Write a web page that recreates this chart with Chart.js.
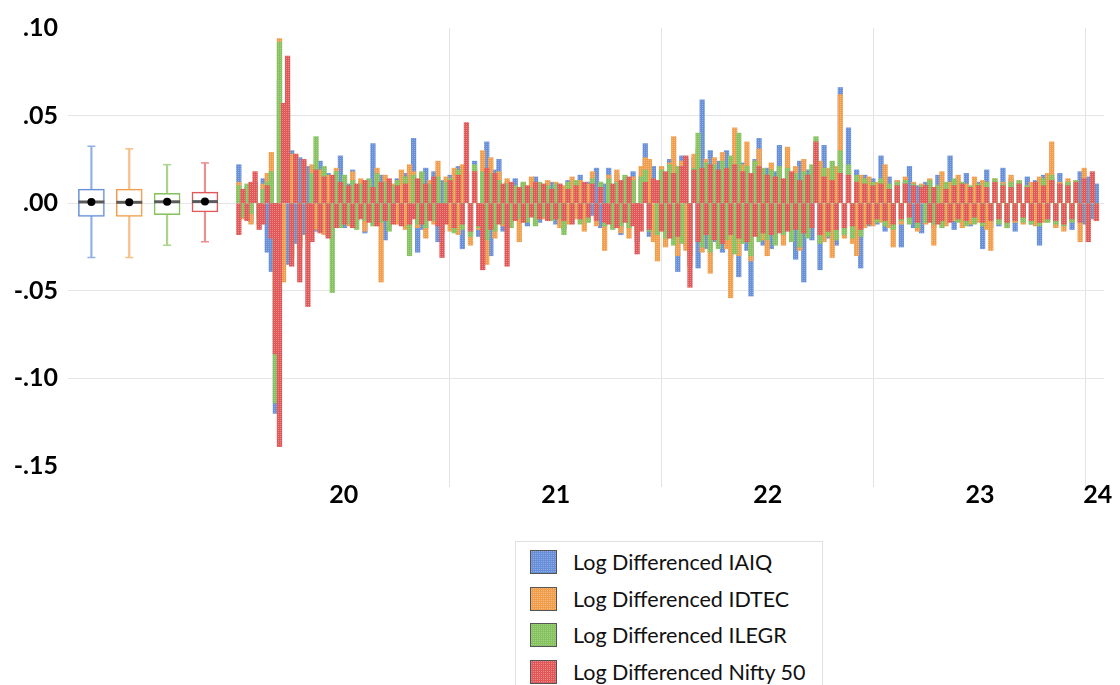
<!DOCTYPE html>
<html>
<head>
<meta charset="utf-8">
<script src="https://cdn.jsdelivr.net/npm/chart.js@4.4.1/dist/chart.umd.min.js"></script>
<style>
  html, body { margin: 0; padding: 0; background: #fff; }
  #wrap { position: relative; width: 1120px; height: 685px; overflow: hidden; font-family: Lato, "Open Sans", sans-serif; }
  #chart { position: absolute; left: 0; top: 0; }
  #legend { position: absolute; left: 515px; top: 541px; width: 308px; height: 170px; border: 1px solid #e0e0e0; box-sizing: border-box; padding: 2px 0 0 14px; background: #fff; }
  .item { display: flex; align-items: center; height: 36.5px; font-size: 21.5px; color: #111; white-space: nowrap; }
  .swatch { width: 27px; height: 24px; border: 1px solid #555; box-sizing: border-box; margin-right: 16px; }
</style>
</head>
<body>
<div id="wrap">
  <canvas id="chart" width="1120" height="685"></canvas>
  <div id="legend"></div>
</div>
<script>
const SERIES_NAMES = ["Log Differenced IAIQ", "Log Differenced IDTEC", "Log Differenced ILEGR", "Log Differenced Nifty 50"];
const COLORS = ["#6890d8", "#f09e4c", "#86c25f", "#e05858"];
const DOTS = ["#8eaae2", "#f5b97e", "#a3d185", "#ea8787"];
const LIGHT = ["#93b0e4", "#f5be85", "#a9d48b", "#ea8f8f"];

const yearLabels = ["20", "21", "22", "23", "24"];
const yTicks = [-0.15, -0.10, -0.05, 0, 0.05, 0.10];

// weekly log differences, Jan 2020 - Jan 2024
const iaiq = [
  .022, -.006, .009, -.011, .012, -.008, .014, -.028, -.039, -.120, .070, .046, -.035,
  .030, -.023, .026, -.018, .021, .019, -.016, .024, -.012, .017, -.020, .015, .027,
  -.014, .011, .019, -.009, .013, -.017, .008, .034, -.012, .016, -.021, .010, -.008,
  .014, -.010, .017, .012, .037, -.028, -.015, .020, -.009, .018, -.022, .013, -.011,
  .016, -.013, .021, -.026, .018, -.017, .024, -.019, .015, .035, -.030, .019, .025,
  -.016, .012, -.010, .014, -.008, .011, -.013, .009, .015, -.011, .010, -.007, .012,
  -.012, .010, -.015, .013, -.009, .008, .016, -.011, .012, -.007, .020, -.014, .011,
  .020, -.013, .016, -.018, .014, -.011, .018, -.022, .015, .034, -.019, .021, -.016,
  .018, -.021, .025, .022, -.039, .027, -.024, -.030, .026, -.037, .059, -.026, .030,
  -.022, .024, -.028, .030, -.031, .028, -.042, .023, -.027, -.053, .025, .037, -.024,
  .020, -.026, .018, .033, -.019, .022, -.017, -.032, .024, -.045, .019, -.021, .026,
  -.038, .033, -.020, .017, -.024, .066, -.018, .043, -.015, .019, -.037, .016, -.013,
  .014, -.012, .027, -.016, .015, -.011, .013, -.025, .012, .021, -.014, .010, -.017,
  .012, -.010, -.014, .016, -.012, .011, .027, -.015, .013, -.009, .017, -.013, .010,
  .012, -.026, .019, -.014, .011, -.013, .020, -.011, .014, -.016, .012, -.010, .015,
  -.012, .013, -.024, .016, -.010, .014, -.013, .017, -.011, .012, -.015, .010, .018,
  -.012, .015, -.009, .011
];
const idtec = [
  .012, -.009, .007, -.012, .010, -.007, .011, .017, .029, -.078, .094, -.045, .040,
  .028, .028, -.026, .024, -.020, .022, -.015, .019, -.018, .016, -.014, .020, -.012,
  .015, -.013, .018, -.010, .014, -.016, .012, -.011, .020, -.045, .016, -.013, .011,
  -.012, .019, -.015, .022, .018, -.014, .017, -.020, .013, -.012, .024, -.017, .015,
  -.016, .020, -.018, .022, .017, -.024, .019, -.015, .030, -.035, .026, -.020, .018,
  -.013, .014, -.011, .009, -.022, .012, -.010, .015, -.012, .011, -.009, .013, -.010,
  .012, -.014, .010, -.012, .015, -.009, .013, -.016, .011, .018, -.013, .012, -.027,
  .016, -.014, .019, -.017, .013, -.020, .015, -.018, .021, .026, .025, -.022, -.033,
  .021, -.025, .023, .038, -.030, .024, -.027, -.036, .028, .031, -.028, .025, -.040,
  .026, -.024, .029, -.026, -.054, .043, -.030, .022, .035, -.033, .024, .031, -.021,
  -.030, .023, -.020, .019, -.024, .032, -.018, .021, -.027, .025, -.019, .018, .030,
  .024, -.022, .020, -.031, .021, .062, -.020, .018, -.023, -.030, .016, -.014, .015,
  -.013, .012, -.011, .022, -.014, -.025, .013, -.012, .015, -.010, .012, -.016, .011,
  -.012, .014, -.024, .010, .018, -.013, .012, -.010, .016, -.014, .011, -.012, .015,
  -.011, .013, -.015, -.027, .014, -.010, .012, -.014, .016, -.011, .013, -.012, .010,
  .012, -.013, .015, -.011, .017, .035, -.014, .012, -.016, .014, -.010, .013, -.022,
  .020, -.013, .012, -.010
];
const ilegr = [
  .010, -.008, .011, -.006, .009, -.012, .008, .012, .018, -.114, .092, .050, .055,
  -.031, .024, -.022, .020, -.018, .017, .038, -.016, .021, -.019, -.051, .018, -.014,
  .016, -.012, .013, -.015, .011, -.010, .014, -.013, .017, -.011, .012, -.016, .010,
  .013, -.011, .015, -.030, .016, -.012, .018, -.014, .011, -.010, .015, -.013, .012,
  .014, -.017, .019, -.015, .016, -.019, .022, -.014, .018, -.021, .017, -.016, .013,
  -.012, .011, -.014, .010, -.009, .012, -.011, .009, -.013, .012, -.008, .010, -.010,
  .011, -.009, -.018, .012, -.010, .013, -.012, .010, -.011, .014, -.009, .012, -.013,
  .014, -.015, .012, -.013, .016, -.014, .013, -.017, .015, .019, -.016, .014, -.018,
  .019, -.020, .022, -.024, .021, -.023, .025, -.027, .020, .040, -.025, .023, -.028,
  .022, -.026, .024, -.021, .027, -.029, .040, -.023, .021, -.030, .024, -.022, .020,
  -.021, .019, -.024, .021, -.018, .020, -.022, .017, -.025, .018, -.020, .022, .038,
  -.023, .020, -.019, .024, -.021, .030, -.018, .022, -.020, .016, -.019, .014, -.012,
  .012, -.011, .014, -.013, .011, -.015, .012, -.010, .013, -.012, .011, -.014, .010,
  -.011, .013, -.012, .010, -.014, .012, -.010, .014, -.011, .012, -.013, .010, -.012,
  .011, -.013, .012, -.010, .014, -.012, .011, -.014, .012, -.010, .013, -.011, .010,
  -.012, .011, -.013, .014, -.011, .016, -.012, .010, -.013, .012, -.011, .013, -.010,
  .011, -.012, .010, -.009
];
const nifty = [
  -.018, .008, -.010, .012, .018, -.015, -.012, .010, -.020, -.086, -.139, .057, .084,
  -.036, .028, -.045, .025, -.059, -.022, .019, -.017, .015, -.020, .016, -.014, .012,
  -.012, .010, -.014, .011, -.009, .013, -.011, .009, -.013, .012, -.010, .014, -.012,
  .010, -.013, .011, -.012, -.009, .014, -.012, .011, -.010, .015, -.013, -.031, -.012,
  .013, -.014, .016, -.012, .046, -.016, .018, -.013, -.038, .020, -.015, .017, -.012,
  .011, -.036, .012, -.010, .009, -.011, .010, -.008, .012, -.009, .011, -.010, .008,
  -.009, .011, -.010, .008, -.012, .010, -.009, .012, -.008, .011, -.010, .009, -.011,
  -.012, .011, -.014, .013, -.011, .015, -.013, -.029, -.016, .012, -.015, .014, .013,
  -.016, .018, -.020, .017, -.019, .021, .027, -.048, .019, -.022, .020, -.018, .022,
  -.021, .019, -.023, .020, -.018, .022, -.020, .018, -.022, .017, -.019, .021, -.017,
  .016, -.018, .015, -.017, .014, -.016, .018, -.015, .013, -.017, .016, -.014, .035,
  -.018, .015, -.016, .013, -.015, .017, -.014, .016, -.013, .012, -.015, .011, -.012,
  .010, -.009, .011, -.010, .008, -.012, .010, -.009, .011, -.008, .010, -.011, .009,
  .010, -.011, .009, -.012, -.010, .008, -.011, .010, -.009, .011, -.010, .009, -.008,
  .010, -.011, .009, -.010, .012, -.009, .010, -.011, .009, -.010, .011, -.008, .009,
  -.010, .012, -.011, .010, -.009, .013, -.010, .011, -.012, .010, -.009, .012, -.011,
  .014, -.022, .018, -.010
];

// box plot summaries per series
const whiskerLow = [-0.031, -0.031, -0.024, -0.022];
const q1 = [-0.0075, -0.0075, -0.0065, -0.005];
const median = [0.0007, 0.0005, 0.0008, 0.0009];
const q3 = [0.008, 0.008, 0.0057, 0.0063];
const whiskerHigh = [0.0325, 0.031, 0.022, 0.023];

const SERIES = [iaiq, idtec, ilegr, nifty];
const X_MIN = 2019.2;
const X_MAX = 2024.085;
const gridYears = [2021, 2022, 2023, 2024];
const labelPos = [2020.5, 2021.5, 2022.5, 2023.5, 2024.055];

// Excel-like dotted fill
const makePattern = (base, dot) => {
  const c = document.createElement("canvas");
  c.width = 2;
  c.height = 2;
  const g = c.getContext("2d");
  g.fillStyle = base;
  g.fillRect(0, 0, 2, 2);
  g.fillStyle = dot;
  g.fillRect(0, 0, 1, 1);
  return c;
};
const patternCanvases = COLORS.map((c, i) => makePattern(c, DOTS[i]));
const ctx = document.getElementById("chart").getContext("2d");
const FILLS = patternCanvases.map((c) => ctx.createPattern(c, "repeat"));

// weekly observation dates as fractional years
const weekPos = iaiq.map((_, i) => 2020 + (i * 7 + 2) / 365.25);

const barSets = SERIES.map((vals, s) => ({
  type: "bar",
  label: SERIES_NAMES[s],
  data: vals.map((v, i) => ({ x: weekPos[i], y: v })),
  xAxisID: "x",
  backgroundColor: FILLS[s],
  borderWidth: 0,
  barThickness: 4.6,
  grouped: false,
  order: 4 - s,
}));

// box plots sit on their own hidden index axis
const boxIdx = SERIES_NAMES.map((_, i) => i + 1);
const floatPts = (lo, hi) => boxIdx.map((x, i) => ({ x, y: [lo[i], hi[i]] }));
const pts = (vals) => boxIdx.map((x, i) => ({ x, y: vals[i] }));

const boxSets = [
  {
    type: "bar", data: floatPts(whiskerLow, q1), xAxisID: "xb",
    backgroundColor: LIGHT, barThickness: 1.5, grouped: false, order: -1,
  },
  {
    type: "bar", data: floatPts(q3, whiskerHigh), xAxisID: "xb",
    backgroundColor: LIGHT, barThickness: 1.5, grouped: false, order: -1,
  },
  {
    type: "bar", data: floatPts(q1, q3), xAxisID: "xb",
    backgroundColor: "rgba(255,255,255,0.9)", borderColor: COLORS, borderWidth: 1.5,
    borderSkipped: false, barThickness: 26, grouped: false, order: -2,
  },
  {
    type: "scatter", data: pts(whiskerLow), xAxisID: "xb",
    pointStyle: "line", pointRadius: 4, pointBorderColor: LIGHT, pointBorderWidth: 1.5, order: -2,
  },
  {
    type: "scatter", data: pts(whiskerHigh), xAxisID: "xb",
    pointStyle: "line", pointRadius: 4, pointBorderColor: LIGHT, pointBorderWidth: 1.5, order: -2,
  },
  {
    type: "scatter", data: pts(median), xAxisID: "xb",
    pointStyle: "line", pointRadius: 13, pointBorderColor: "#5a5a5a", pointBorderWidth: 3, order: -3,
  },
  {
    type: "scatter", data: pts(median), xAxisID: "xb",
    pointStyle: "circle", pointRadius: 4, pointBackgroundColor: "#000", pointBorderWidth: 0, order: -4,
  },
];

const CLEAR = "rgba(0,0,0,0)";

new Chart(ctx, {
  type: "bar",
  data: { datasets: [...barSets, ...boxSets] },
  options: {
    responsive: false,
    animation: false,
    layout: { padding: { top: 28, right: 12, bottom: 159, left: 0 } },
    plugins: {
      legend: { display: false },
      tooltip: { enabled: false },
    },
    scales: {
      x: {
        type: "linear",
        min: X_MIN,
        max: X_MAX,
        offset: false,
        border: { display: false },
        grid: {
          offset: false,
          tickLength: 21,
          color: (c) => (c.tick && gridYears.includes(c.tick.value) ? "#e3e3e3" : CLEAR),
        },
        afterBuildTicks: (scale) => {
          scale.ticks = [...gridYears, ...labelPos].sort((a, b) => a - b).map((v) => ({ value: v }));
        },
        afterFit: (scale) => { scale.height = 60; },
        ticks: {
          autoSkip: false,
          maxRotation: 0,
          padding: -7,
          color: "#000",
          font: { family: "Lato", size: 25, weight: "bold" },
          callback: (v) => {
            const k = labelPos.indexOf(v);
            return k >= 0 ? yearLabels[k] : "";
          },
        },
      },
      xb: {
        type: "linear",
        display: false,
        min: 0.382,
        max: 27.75,
        offset: false,
      },
      y: {
        min: -0.15,
        max: 0.10,
        border: { display: false },
        grid: {
          drawTicks: false,
          color: (c) => {
            const v = c.tick ? c.tick.value : 0;
            return v > 0.09 || v < -0.14 ? CLEAR : "#e6e6e6";
          },
        },
        afterBuildTicks: (scale) => { scale.ticks = yTicks.map((v) => ({ value: v })); },
        afterFit: (scale) => { scale.width = 68; },
        ticks: {
          padding: 10,
          color: "#000",
          font: { family: "Lato", size: 25, weight: "bold" },
          callback: (v) => (v < -1e-9 ? "-" : "") + Math.abs(v).toFixed(2).slice(1),
        },
      },
    },
  },
});

// legend box
const legendEl = document.getElementById("legend");
SERIES_NAMES.forEach((name, i) => {
  const row = document.createElement("div");
  row.className = "item";
  const sw = document.createElement("span");
  sw.className = "swatch";
  sw.style.backgroundImage = "url(" + patternCanvases[i].toDataURL() + ")";
  sw.style.backgroundColor = COLORS[i];
  const txt = document.createElement("span");
  txt.textContent = name;
  row.appendChild(sw);
  row.appendChild(txt);
  legendEl.appendChild(row);
});
</script>
</body>
</html>
